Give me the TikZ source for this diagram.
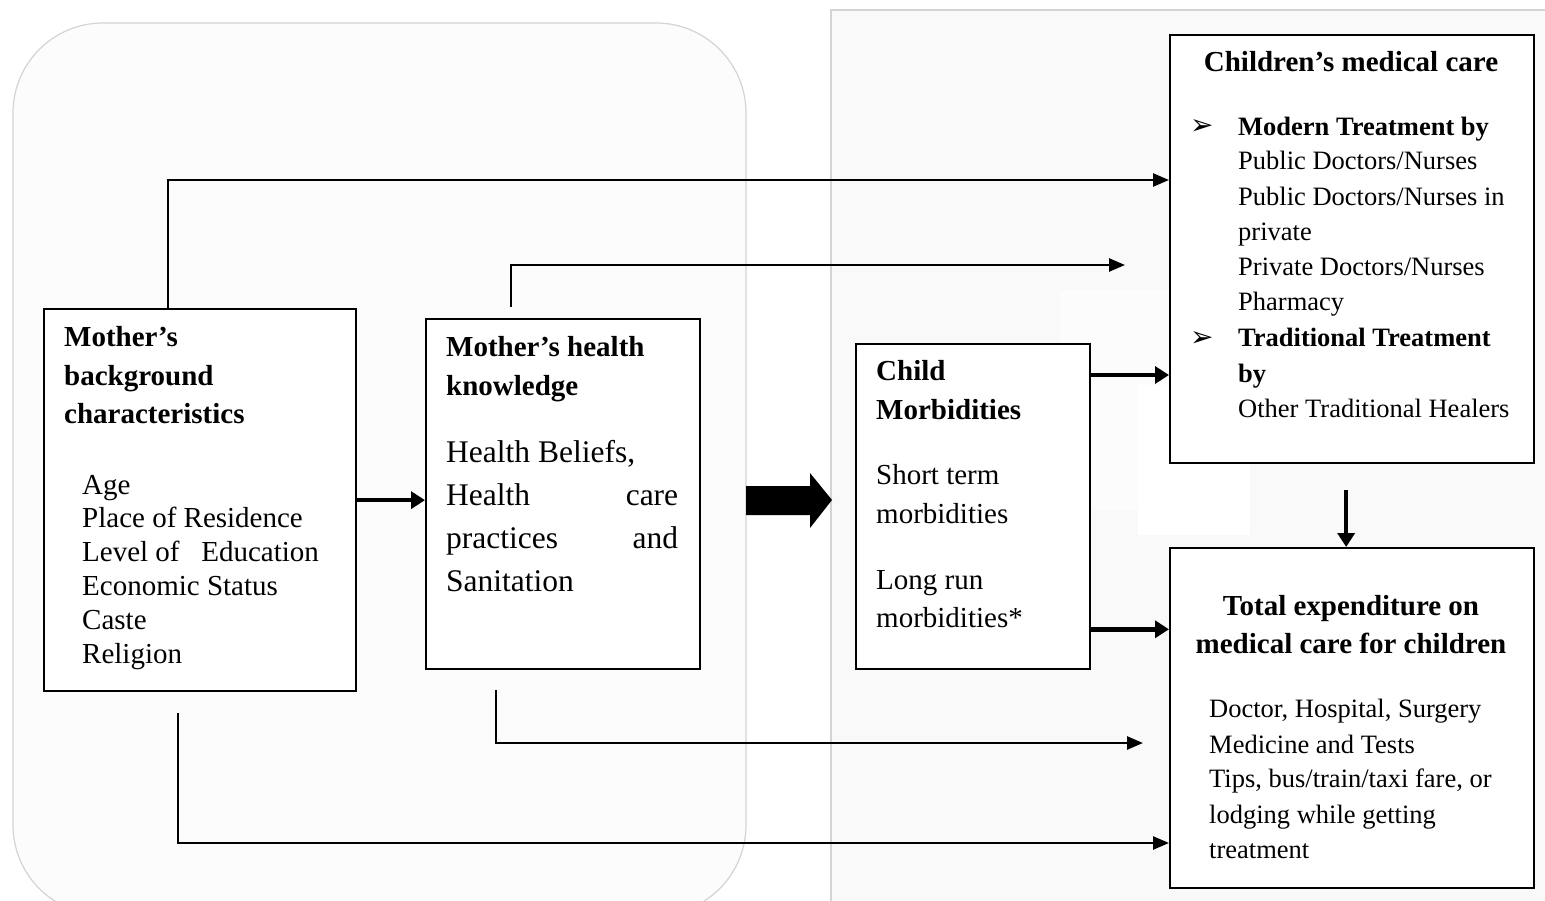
\documentclass[tikz,border=0pt]{standalone}
\usepackage{fontspec}
\setmainfont{Liberation Serif}
\newfontfamily\dingfont{DejaVu Sans}
\usetikzlibrary{arrows.meta,calc}
\definecolor{panelgray}{RGB}{249,249,249}
\definecolor{panelgrayb}{RGB}{252,252,252}
\definecolor{edgegray}{RGB}{212,212,212}
\definecolor{roundfill}{RGB}{252,252,253}
\tikzset{
  box/.style={draw, line width=2.3pt, fill=white, inner sep=0pt, anchor=north west},
  conn/.style={line width=2.5pt, -{Triangle[length=16pt,width=13pt]}},
  connb/.style={line width=4.5pt, -{Triangle[length=14pt,width=17pt]}},
  hd/.style={anchor=base west, inner sep=0pt, font=\fontsize{29}{34}\selectfont\bfseries},
  hdc/.style={anchor=base, inner sep=0pt, font=\fontsize{29}{34}\selectfont\bfseries},
  hdm/.style={anchor=base west, inner sep=0pt, font=\fontsize{26.5}{32}\selectfont\bfseries},
  bdl/.style={anchor=base west, inner sep=0pt, font=\fontsize{29}{34}\selectfont},
  bdm/.style={anchor=base west, inner sep=0pt, font=\fontsize{31.5}{38}\selectfont},
  bdr/.style={anchor=base west, inner sep=0pt, font=\fontsize{26.5}{32}\selectfont},
  bul/.style={anchor=base west, inner sep=0pt, font=\fontsize{28}{30}\dingfont},
}
\begin{document}
\begin{tikzpicture}[x=1pt,y=-1pt]
\useasboundingbox (0,0) rectangle (1545,901);
% background panels
\fill[white] (0,0) rectangle (1545,901);
\fill[panelgray] (831,10) rectangle (1545,901);
\fill[panelgrayb] (1060,290) rectangle (1170,510);
\fill[white] (1138,385) rectangle (1250,535);
\draw[edgegray, line width=1.2pt] (831,901) -- (831,10) -- (1545,10);
\draw[edgegray, line width=1.2pt, fill=roundfill, rounded corners=90pt] (13,23) rectangle (746,915);

% boxes
\node[box, minimum width=312pt, minimum height=382pt] (b1) at (43,308) {};
\node[box, minimum width=274pt, minimum height=350pt] (b2) at (425,318) {};
\node[box, minimum width=234pt, minimum height=325pt] (b3) at (855,343) {};
\node[box, minimum width=364pt, minimum height=428pt] (b4) at (1169,34) {};
\node[box, minimum width=364pt, minimum height=340pt] (b5) at (1169,547) {};

% box 1 text
\node[hd] (t1a) at (64,346) {Mother’s};
\node[hd] (t1b) at (64,385) {background};
\node[hd] (t1c) at (64,423) {characteristics};
\node[bdl] (t1d) at (82,494) {Age};
\node[bdl] (t1e) at (82,527) {Place of Residence};
\node[bdl] (t1f) at (82,561) {Level of\ \ \ Education};
\node[bdl] (t1g) at (82,595) {Economic Status};
\node[bdl] (t1h) at (82,629) {Caste};
\node[bdl] (t1i) at (82,663) {Religion};

% box 2 text
\node[hd] (t2a) at (446,356) {Mother’s health};
\node[hd] (t2b) at (446,395) {knowledge};
\node[bdm] (t2c) at (446,462) {Health Beliefs,};
\node[bdm] (t2d) at (446,505) {\hbox to 232pt{Health\hfill care}};
\node[bdm] (t2e) at (446,548) {\hbox to 232pt{practices\hfill and}};
\node[bdm] (t2f) at (446,591) {Sanitation};

% box 3 text
\node[hd] (t3a) at (876,381) {Child};
\node[hd] (t3b) at (876,419) {Morbidities};
\node[bdl] (t3c) at (876,484) {Short term};
\node[bdl] (t3d) at (876,523) {morbidities};
\node[bdl] (t3e) at (876,589) {Long run};
\node[bdl] (t3f) at (876,627) {morbidities*};

% box 4 text
\node[hdc] (t4a) at (1351,72) {Children’s medical care};
\node[bul] (t4b) at (1190,135) {➢};
\node[hdm] (t4c) at (1238,136) {Modern Treatment by};
\node[bdr] (t4d) at (1238,170) {Public Doctors/Nurses};
\node[bdr] (t4e) at (1238,206) {Public Doctors/Nurses in};
\node[bdr] (t4f) at (1238,241) {private};
\node[bdr] (t4g) at (1238,276) {Private Doctors/Nurses};
\node[bdr] (t4h) at (1238,311) {Pharmacy};
\node[bul] (t4i) at (1190,346) {➢};
\node[hdm] (t4j) at (1238,347) {Traditional Treatment};
\node[hdm] (t4k) at (1238,382) {by};
\node[bdr] (t4l) at (1238,417) {Other Traditional Healers};

% box 5 text
\node[hdc] (t5a) at (1351,615) {Total expenditure on};
\node[hdc] (t5b) at (1351,653) {medical care for children};
\node[bdr] (t5c) at (1209,717) {Doctor, Hospital, Surgery};
\node[bdr] (t5d) at (1209,753) {Medicine and Tests};
\node[bdr] (t5e) at (1209,787) {Tips, bus/train/taxi fare, or};
\node[bdr] (t5f) at (1209,823) {lodging while getting};
\node[bdr] (t5g) at (1209,858) {treatment};

% connectors
\draw[conn] ([xshift=125pt]b1.north west) |- ([yshift=-146pt]b4.north west);
\draw[conn] ([xshift=86pt,yshift=11pt]b2.north west) |- ([xshift=-44pt,yshift=-231pt]b4.north west);
\draw[connb] (b1.east) -- (b1.east -| b2.west);
\draw[connb] ([yshift=-32pt]b3.north east) -- ([yshift=-32pt]b3.north east -| b4.west);
\draw[connb] ([yshift=41pt]b3.south east) -- ([yshift=41pt]b3.south east -| b5.west);
\draw[connb] ([xshift=-6pt,yshift=-26pt]b4.south) -- ([xshift=-6pt]b5.north);
\draw[conn] ([xshift=71pt,yshift=-20pt]b2.south west) |- ([xshift=-26pt,yshift=-196pt]b5.north west);
\draw[conn] ([xshift=135pt,yshift=-21pt]b1.south west) |- ([yshift=-296pt]b5.north west);

% block arrow
\fill[black] (746,486) -- (810,486) -- (810,473) -- (832,500) -- (810,528) -- (810,515) -- (746,515) -- cycle;
\end{tikzpicture}
\end{document}
